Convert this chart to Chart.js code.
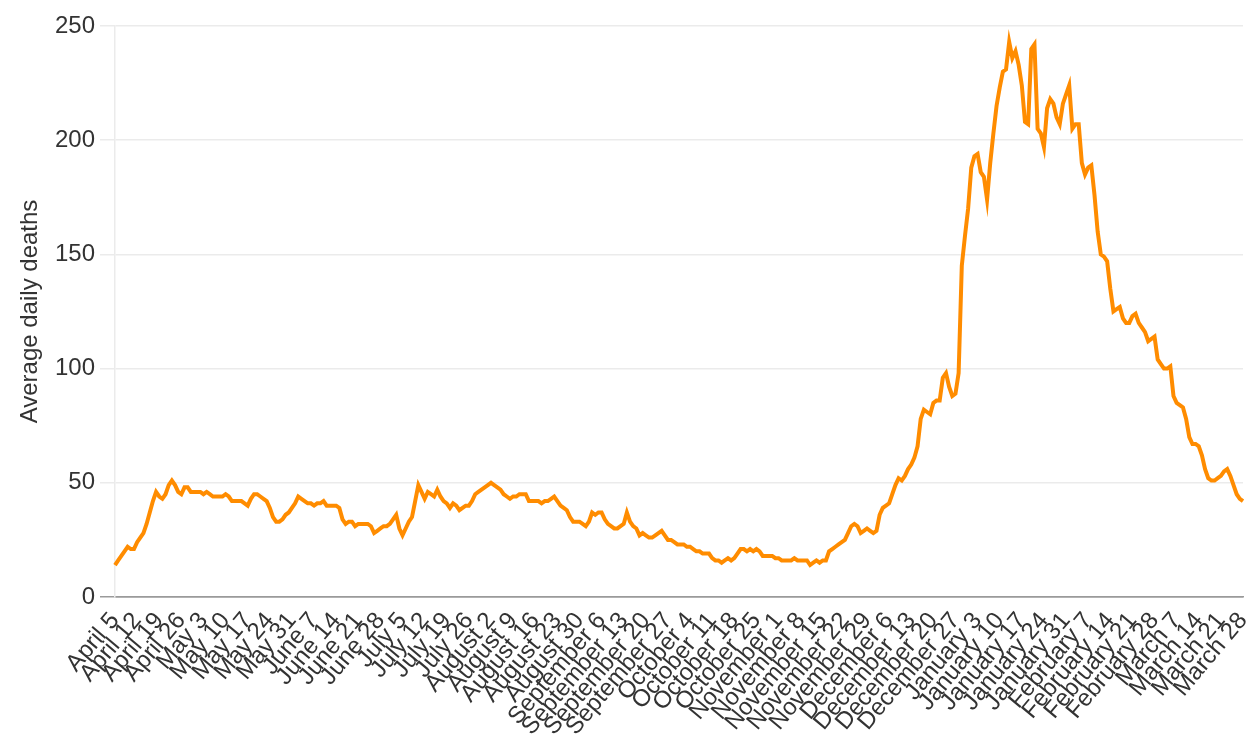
<!DOCTYPE html>
<html>
<head>
<meta charset="utf-8">
<script src="https://cdn.jsdelivr.net/npm/chart.js@4/dist/chart.umd.min.js"></script>
<style>
  html, body { margin: 0; padding: 0; background: #ffffff; }
  #wrap { width: 1249px; height: 737px; position: relative; }
</style>
</head>
<body>
<div id="wrap"><canvas id="c"></canvas></div>
<script>
// Weekly tick labels (one every 7 days)
const weekLabels = [
  'April 5','April 12','April 19','April 26','May 3','May 10','May 17','May 24','May 31',
  'June 7','June 14','June 21','June 28','July 5','July 12','July 19','July 26',
  'August 2','August 9','August 16','August 23','August 30','September 6','September 13',
  'September 20','September 27','October 4','October 11','October 18','October 25',
  'November 1','November 8','November 15','November 22','November 29','December 6',
  'December 13','December 20','December 27','January 3','January 10','January 17',
  'January 24','January 31','February 7','February 14','February 21','February 28',
  'March 7','March 14','March 21','March 28'
];

// Average daily deaths, one value per day from April 5 to March 28
const deaths = [
  14,16,18,20,22,21,21,24,26,28,
  32,37,42,46,44,43,45,49,51,49,
  46,45,48,48,46,46,46,46,45,46,
  45,44,44,44,44,45,44,42,42,42,
  42,41,40,43,45,45,44,43,42,39,
  35,33,33,34,36,37,39,41,44,43,
  42,41,41,40,41,41,42,40,40,40,
  40,39,34,32,33,33,31,32,32,32,
  32,31,28,29,30,31,31,32,34,36,
  30,27,30,33,35,42,49,46,43,46,
  45,44,47,44,42,41,39,41,40,38,
  39,40,40,42,45,46,47,48,49,50,
  49,48,47,45,44,43,44,44,45,45,
  45,42,42,42,42,41,42,42,43,44,
  42,40,39,38,35,33,33,33,32,31,
  33,37,36,37,37,34,32,31,30,30,
  31,32,37,33,31,30,27,28,27,26,
  26,27,28,29,27,25,25,24,23,23,
  23,22,22,21,20,20,19,19,19,17,
  16,16,15,16,17,16,17,19,21,21,
  20,21,20,21,20,18,18,18,18,17,
  17,16,16,16,16,17,16,16,16,16,
  14,15,16,15,16,16,20,21,22,23,
  24,25,28,31,32,31,28,29,30,29,
  28,29,36,39,40,41,45,49,52,51,
  53,56,58,61,66,78,82,81,80,85,
  86,86,96,98,92,88,89,98,145,158,
  170,188,193,194,186,184,174,190,203,215,
  223,230,231,243,236,239,233,224,208,207,
  240,242,205,203,197,214,218,216,210,207,
  216,220,224,205,207,207,190,185,188,189,
  176,160,150,149,147,135,125,126,127,122,
  120,120,123,124,120,118,116,112,113,114,
  104,102,100,100,101,88,85,84,83,78,
  70,67,67,66,62,56,52,51,51,52,
  53,55,56,53,49,45,43,42
];

const yTicks = [0, 50, 100, 150, 200, 250];
const yTitle = 'Average daily deaths';

// Daily category labels: a week label on every 7th day
const dayLabels = deaths.map((_, i) => (i % 7 === 0 ? weekLabels[i / 7] : ''));

const FONT = 'Arial, "Liberation Sans", sans-serif';

new Chart(document.getElementById('c'), {
  type: 'line',
  data: {
    labels: dayLabels,
    datasets: [{
      data: deaths,
      borderColor: '#ff8c00',
      borderWidth: 4,
      pointRadius: 0,
      pointHoverRadius: 0,
      tension: 0,
      fill: false
    }]
  },
  options: {
    responsive: true,
    maintainAspectRatio: false,
    animation: false,
    devicePixelRatio: 1,
    layout: { padding: { top: 26, right: 6, left: 0, bottom: 0 } },
    plugins: { legend: { display: false }, tooltip: { enabled: false } },
    scales: {
      x: {
        type: 'category',
        offset: false,
        grid: { display: false },
        border: { display: true, color: '#9a9a9a', width: 1.5 },
        afterFit: (axis) => { axis.height = 140; axis.paddingRight = 0; axis.paddingLeft = 0; },
        ticks: {
          autoSkip: false,
          minRotation: 50,
          maxRotation: 50,
          padding: 2,
          color: '#333',
          font: { family: FONT, size: 24 },
          callback: function (val, idx) {
            const l = dayLabels[idx];
            return l === '' ? null : l;
          }
        }
      },
      y: {
        min: 0,
        max: 250,
        afterBuildTicks: (axis) => { axis.ticks = yTicks.map(v => ({ value: v })); },
        afterFit: (axis) => { axis.width = 115; axis.paddingTop = 0; axis.paddingBottom = 0; },
        grid: {
          color: (ctx) => (ctx.tick && ctx.tick.value === 0 ? '#9a9a9a' : '#ebebeb'),
          lineWidth: 1.5,
          tickLength: 15,
          drawTicks: true
        },
        border: { display: true, color: '#ebebeb', width: 1.5 },
        ticks: {
          padding: 5,
          color: '#333',
          font: { family: FONT, size: 24 }
        },
        title: {
          display: true,
          text: yTitle,
          color: '#333',
          font: { family: FONT, size: 24 },
          padding: { top: 16, bottom: 0 }
        }
      }
    }
  }
});
</script>
</body>
</html>
